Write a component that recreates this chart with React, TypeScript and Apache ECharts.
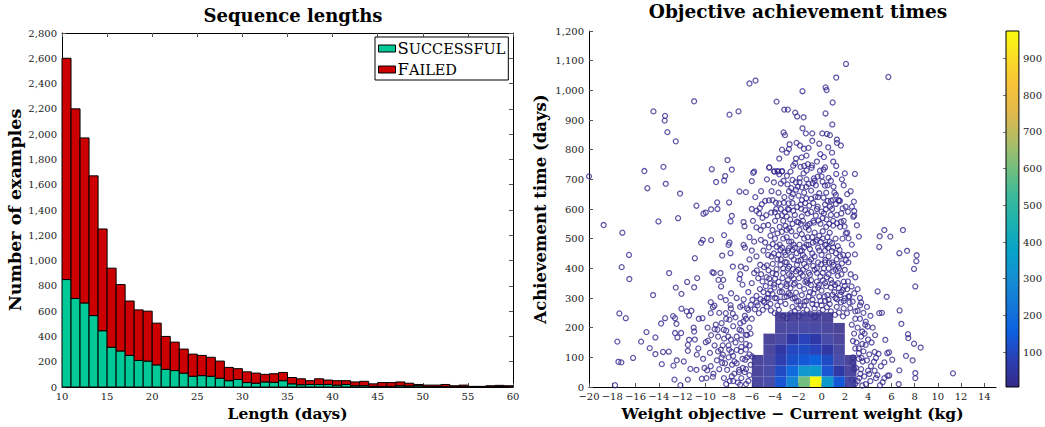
import React, { useEffect, useRef } from "react";
import * as echarts from "echarts";

// ---------- Left chart: sequence lengths ----------
const lengthBins = [
  10, 11, 12, 13, 14, 15, 16, 17, 18, 19, 20, 21, 22, 23, 24, 25, 26, 27, 28, 29,
  30, 31, 32, 33, 34, 35, 36, 37, 38, 39, 40, 41, 42, 43, 44, 45, 46, 47, 48, 49,
  50, 51, 52, 53, 54, 55, 56, 57, 58, 59,
];
const successful = [
  850, 700, 665, 565, 445, 315, 285, 250, 210, 205, 175, 140, 130, 110, 85, 90, 85, 70, 50, 60,
  35, 30, 40, 37, 50, 25, 18, 20, 20, 20, 15, 20, 10, 10, 5, 5, 5, 10, 8, 10,
  3, 3, 3, 2, 3, 1, 1, 2, 3, 2,
];
const failed = [
  1750, 1500, 1305, 1105, 805, 625, 525, 430, 400, 395, 330, 260, 225, 190, 175, 160, 150, 135, 105, 85,
  85, 80, 60, 68, 65, 50, 47, 30, 45, 35, 35, 30, 30, 35, 20, 30, 30, 30, 22, 10,
  12, 12, 17, 8, 12, 4, 4, 8, 10, 8,
];
const binWidth = 1;

// ---------- Right chart: objective achievement times ----------
const scatterPoints: number[][] = [
  // far outliers
  [2.1, 1089], [5.74, 1045], [1.26, 1043], [-6.2, 1023], [-5.68, 1033], [-1.64, 997], [0.34, 1010], [0.43, 1001],
  [-10.96, 963], [-3.87, 962], [0.95, 959], [-14.46, 929], [-13.46, 914], [-13.49, 898], [-7.14, 929], [-7.92, 918],
  [-3.21, 935], [-2.9, 935], [-2.27, 925], [-2.1, 912], [-1.55, 909], [0.34, 922], [-13.26, 859], [-12.54, 828],
  [-3.27, 858], [-3.15, 849], [-1.64, 872], [-1.35, 855], [-0.8, 855], [0.06, 855], [0.46, 853], [0.72, 849], [0.92, 885],
  [-2.75, 818], [-2.81, 802], [-2.15, 823], [-1.86, 814], [-1.52, 803], [-1.12, 806], [-0.11, 785], [0.57, 808],
  [1.32, 834], [1.32, 823], [1.66, 814], [-3.64, 770], [-1.72, 774], [-8.09, 765], [-13.6, 742], [-15.24, 728],
  [-14.98, 670], [-13.4, 685], [-20, 710], [-9.44, 734], [-9.07, 691], [-8.29, 711], [-8.38, 696], [-7.72, 733],
  [-4.5, 740], [-4.07, 727], [-3.79, 727], [-3.41, 727], [-5.8, 726], [-5.88, 722], [-6.0, 694], [1.26, 745],
  [1.26, 718], [2.87, 718], [1.75, 700], [-7.06, 659], [-6.51, 657], [-12.17, 652], [-18.74, 546], [-17.13, 520],
  [-14.03, 558], [-12.34, 569], [-10.76, 611], [-10.16, 584], [-9.96, 588], [-9.5, 599], [-8.98, 622], [-8.95, 600],
  [-7.95, 622], [-7.72, 577], [-7.83, 558], [-6.71, 556], [-6.63, 542], [-10.21, 496], [-10.36, 486], [-9.5, 495],
  [-8.38, 512], [-7.92, 487], [-8.0, 479], [-6.71, 479], [-8.55, 443], [-7.83, 451], [-16.56, 445], [-17.19, 404],
  [-16.53, 364], [-13.11, 384], [-10.9, 434], [-10.7, 367], [-10.96, 336], [-11.56, 354], [-9.38, 387], [-9.27, 384],
  [-8.69, 384], [-8.87, 361], [-8.46, 361], [-8.64, 339], [-7.78, 316], [-7.63, 406], [-6.94, 406], [-7.0, 380],
  [-7.06, 364], [-14.49, 310], [-12.54, 335], [-12.05, 314], [-17.39, 248], [-16.84, 232], [-17.56, 153], [-17.47, 85],
  [-17.22, 83], [-17.76, 6], [-13.46, 232], [-13.8, 214], [-12.77, 239], [-12.48, 213], [-12.6, 232], [-12.05, 264],
  [-15.52, 153], [-15.06, 185], [-14.29, 167], [-16.21, 98], [-14.78, 131], [-14.29, 111], [-13.74, 77], [-13.63, 118],
  [-13.14, 119], [-12.74, 72], [-12.6, 182], [-12.4, 167], [-12.45, 90], [-11.85, 86], [-12.65, 25], [-12.14, 6],
  [-11.5, 25], [-10.3, 28], [-11.28, 61], [-11.5, 142], [-11.39, 159], [-11.5, 122], [-12.08, 182], [-11.6, 255],
  [-11.39, 241], [-11.19, 257], [-10.96, 187], [-10.56, 230], [-10.24, 232], [-10.73, 109], [-10.76, 58], [-10.19, 95],
  [-10.07, 64], [-9.84, 56], [-9.53, 70], [-9.35, 34], [-9.96, 151], [-9.76, 156], [-9.1, 210], [-8.95, 193],
  [-8.41, 193], [-8.24, 249], [-7.63, 247], [-7.92, 227], [-8.38, 163], [-8.03, 170], [-8.67, 126], [-8.49, 109],
  [-7.95, 126], [-8.55, 81], [-8.12, 58], [-7.75, 118], [-7.72, 36], [-7.49, 86], [-7.09, 58], [-6.94, 120],
  [-7.06, 193], [-6.71, 221], [-6.51, 176], [-6.51, 126], [-6.57, 92], [-5.97, 103], [-6.77, 64], [-9.53, 249],
  [-9.35, 269], [-9.53, 286], [-9.21, 274], [-8.69, 303], [-8.24, 293], [-7.83, 276],
  // right side
  [5.4, 529], [7.0, 529], [5.0, 508], [5.91, 507], [4.96, 472], [6.69, 451], [7.35, 459], [8.18, 444], [8.15, 424],
  [7.95, 398], [8.06, 339], [4.82, 322], [5.6, 304], [6.71, 258], [6.86, 213], [7.43, 178], [7.46, 165], [7.95, 146],
  [8.52, 133], [7.26, 105], [7.83, 90], [8.06, 47], [8.06, 30], [11.3, 46], [6.69, 56], [6.63, 10], [5.48, 159],
  [4.96, 249], [5.19, 250], [3.21, 507], [2.87, 447], [2.27, 445], [2.78, 625], [3.04, 545], [2.81, 578], [2.81, 593],
  [3.41, 285], [3.1, 257], [3.76, 210], [3.96, 204], [3.5, 187], [3.79, 142], [4.56, 118], [4.68, 98], [4.9, 112],
  [5.65, 114], [5.8, 117], [6.08, 92], [5.4, 83], [5.1, 70], [4.56, 55], [4.25, 70], [4.68, 30], [5.02, 6], [5.25, 16],
  [5.4, 30], [5.68, 38], [5.82, 39], [4.1, 44], [3.67, 36], [3.24, 30], [3.33, 44], [2.9, 11], [2.67, 81], [3.21, 114],
  [3.44, 98], [3.53, 86], [2.96, 64],
  // central column
  [-4.5, 740], [-3.39, 727], [-3.76, 727], [-4.07, 726], [-3.64, 717], [-3.27, 695], [-3.5, 686], [-2.93, 683],
  [-2.98, 712], [-2.67, 726], [-2.44, 746], [-2.27, 754], [-1.81, 742], [-1.49, 745], [-1.18, 751], [-0.83, 747],
  [-0.86, 739], [-1.29, 730], [-1.55, 720], [-1.87, 704], [-2.21, 690], [-2.5, 698], [-2.61, 670], [-2.04, 675],
  [-1.69, 673], [-1.32, 675], [-1.12, 685], [-0.77, 687], [-0.49, 680], [-0.14, 729], [0.17, 733], [-0.34, 709],
  [-0.66, 703], [0.09, 692], [0.29, 679], [0.52, 680], [0.8, 695], [1.03, 675], [1.23, 647], [1.46, 628], [1.58, 627],
  [1.23, 617], [0.8, 628], [0.52, 627], [0.17, 638], [-0.2, 653], [-0.54, 641], [-0.89, 635], [-1.32, 636], [-1.69, 630],
  [-1.98, 645], [-2.47, 650], [-2.84, 619], [-3.24, 621], [-3.64, 619], [-3.93, 621], [-4.22, 630], [-4.53, 629],
  [-4.85, 627], [-5.14, 616], [-5.31, 603], [-5.6, 594], [-5.37, 585], [-5.08, 570], [-4.76, 579], [-4.33, 588],
  [-4.02, 589], [-3.76, 576], [-3.41, 579], [-3.16, 589], [-2.81, 598], [-2.44, 594], [-2.1, 607], [-1.75, 601],
  [-1.41, 596], [-1.06, 611], [-0.72, 620], [-0.34, 608], [0, 591], [0.37, 599], [0.72, 608], [0.98, 630], [1.49, 630],
  [1.81, 602], [2.07, 608], [2.27, 591], [2.61, 608], [2.73, 574], [2.09, 518], [2.32, 501], [1.98, 541], [1.66, 557],
  [1.32, 552], [1.0, 544], [0.66, 550], [0.43, 565], [0.09, 569], [-0.26, 561], [-0.66, 554], [-1.03, 550], [-1.35, 538],
  [-1.78, 550], [-2.12, 557], [-2.5, 550], [-2.78, 535], [-3.1, 543], [-3.41, 523], [-3.79, 518], [-4.22, 529],
  [-4.59, 546], [-4.99, 543], [-5.25, 529], [-5.6, 538], [-5.22, 496], [-4.85, 487], [-4.53, 471], [-4.19, 482],
  [-3.87, 473], [-3.53, 462], [-3.19, 454], [-2.81, 468], [-2.5, 462], [-2.15, 451], [-1.84, 458], [-1.49, 471],
  [-1.12, 479], [-0.75, 487], [-0.4, 496], [-0.06, 489], [0.29, 479], [0.55, 469], [0.89, 458], [1.23, 451], [1.55, 462],
  [1.86, 445], [2.09, 428], [1.75, 417], [1.41, 406], [1.03, 412], [0.66, 419], [0.32, 428], [-0.03, 414], [-0.4, 400],
  [-0.72, 408], [-1.06, 423], [-1.44, 437], [-1.78, 428], [-2.12, 412], [-2.47, 397], [-2.78, 406], [-3.13, 421],
  [-3.53, 412], [-3.87, 397], [-4.22, 384], [-4.56, 393], [-4.94, 404], [-5.28, 412], [-5.57, 393], [-5.8, 384],
  [-5.45, 367], [-5.08, 356], [-4.73, 370], [-4.39, 350], [-4.05, 335], [-3.7, 354], [-3.36, 367], [-3.01, 348],
  [-2.67, 333], [-2.3, 350], [-1.95, 367], [-1.61, 375], [-1.26, 359], [-0.92, 344], [-0.57, 330], [-0.23, 344],
  [0.11, 359], [0.46, 370], [0.8, 361], [1.15, 344], [1.49, 333], [1.84, 327], [2.27, 356], [2.58, 339], [2.81, 316],
  [2.67, 288], [2.38, 305], [2.01, 299], [1.66, 285], [1.32, 296], [0.95, 311], [0.6, 294], [0.26, 305], [-0.09, 290],
  [-0.43, 277], [-0.77, 294], [-1.12, 305], [-1.46, 288], [-1.81, 274], [-2.15, 288], [-2.5, 299], [-2.84, 316],
  [-3.19, 303], [-3.53, 288], [-3.87, 299], [-4.22, 314], [-4.56, 299], [-4.91, 285], [-5.25, 296], [-5.6, 307],
  [-5.94, 294], [-6.08, 277], [-5.74, 262], [-5.39, 249], [-5.05, 260], [-4.71, 271], [-4.36, 258], [-4.02, 249],
  [-3.67, 260], [-3.33, 240], [-2.98, 232], [-2.64, 249], [-2.3, 255], [-1.95, 238], [-1.61, 249], [-1.26, 260],
  [-0.92, 247], [-0.57, 236], [-0.23, 249], [0.11, 260], [0.46, 269], [0.8, 255], [1.15, 243], [1.49, 251], [1.84, 238],
  [2.18, 249], [2.47, 266],
  // extra middle points
  [-2.6, 640], [-2.2, 665], [-1.5, 655], [-0.9, 662], [-0.3, 640], [0.4, 655], [-2.9, 600], [-2.3, 580], [-1.7, 575],
  [-1.2, 585], [-0.5, 578], [0.2, 585], [0.8, 580], [-3.3, 560], [-2.7, 565], [-1.9, 530], [-1.1, 530], [-0.6, 520],
  [0.1, 525], [0.7, 520], [1.2, 500], [-3.0, 505], [-2.2, 510], [-1.5, 500], [-0.8, 505], [-0.2, 510], [0.5, 505],
  [-3.6, 480], [-2.6, 490], [-1.9, 480], [-1.0, 465], [-0.3, 470], [0.3, 460], [0.9, 485], [-3.1, 445], [-2.4, 430],
  [-1.6, 445], [-0.6, 440], [0.0, 445], [0.6, 440], [1.3, 430], [-3.8, 430], [-2.9, 400], [-2.0, 395], [-1.3, 405],
  [-0.4, 385], [0.2, 400], [1.0, 390], [-3.3, 385], [-2.6, 375], [-1.8, 385], [-1.0, 378], [-0.1, 372], [0.6, 380],
  [1.4, 375], [-3.0, 340], [-2.2, 318], [-1.5, 330], [-0.7, 315], [0.0, 325], [0.8, 335], [1.6, 310], [-4.0, 365],
  [-3.6, 320], [-2.4, 365], [-1.2, 350], [-0.4, 355], [0.4, 340], [1.1, 320], [-4.4, 325], [-3.0, 305], [-2.0, 290],
  [-1.0, 320], [0.3, 290], [1.9, 290], [-5.0, 320], [-4.7, 300], [-5.5, 275], [-6.4, 265], [-6.7, 295], [-6.3, 320],
  [-6.0, 350], [-5.2, 380], [-4.7, 410], [-4.3, 440], [-5.6, 440], [-5.0, 460], [-6.2, 430], [-6.5, 400], [-6.8, 345],
  [-7.3, 300], [-7.0, 270], [2.3, 420], [2.0, 395], [2.5, 380], [1.9, 355], [2.2, 330], [3.1, 330], [3.3, 300],
  [2.9, 370], [2.6, 480], [2.2, 520], [1.9, 560], [1.7, 585],
  [-3.7, 655], [-3.2, 640], [-2.8, 660], [-1.9, 690], [-1.3, 700], [-0.6, 695], [0.0, 710], [0.6, 705], [1.1, 655],
  [-4.3, 660], [-3.9, 600], [-3.5, 600], [-3.0, 575], [-2.5, 620], [-1.8, 615], [-1.4, 620], [-0.9, 590], [-0.4, 600],
  [0.3, 615], [0.9, 600], [1.3, 580], [1.6, 540], [-4.0, 560], [-3.6, 540], [-3.0, 530], [-2.6, 525], [-2.0, 555],
  [-1.6, 560], [-1.2, 545], [-0.7, 560], [-0.1, 550], [0.4, 540], [1.0, 560], [-4.4, 510], [-4.0, 500], [-3.3, 500],
  [-2.8, 490], [-2.4, 480], [-1.7, 515], [-1.2, 505], [-0.5, 490], [0.1, 500], [0.7, 490], [1.4, 475], [1.8, 500],
  [-4.1, 450], [-3.7, 445], [-3.4, 470], [-2.9, 460], [-2.3, 470], [-1.7, 460], [-1.3, 480], [-0.8, 450], [-0.2, 460],
  [0.4, 480], [1.0, 470], [1.6, 440], [-4.6, 445], [-4.2, 415], [-3.5, 430], [-3.0, 420], [-2.6, 440], [-2.0, 425],
  [-1.5, 415], [-0.9, 430], [-0.3, 420], [0.3, 420], [0.9, 420], [1.5, 400], [-4.5, 365], [-3.9, 380], [-3.3, 400],
  [-2.8, 380], [-2.2, 390], [-1.6, 395], [-1.1, 385], [-0.6, 395], [0.1, 385], [0.6, 400], [1.2, 395], [1.7, 380],
  [-4.8, 340], [-4.1, 345], [-3.5, 340], [-2.9, 360], [-2.4, 345], [-1.9, 340], [-1.4, 355], [-0.9, 360], [-0.3, 335],
  [0.3, 350], [0.9, 350], [1.4, 350], [2.0, 340], [-5.3, 330], [-4.6, 315], [-4.0, 300], [-3.4, 320], [-2.7, 310],
  [-2.3, 300], [-1.7, 310], [-1.3, 290], [-0.8, 280], [-0.2, 305], [0.5, 310], [1.2, 300], [1.7, 320], [2.3, 305],
  [-5.6, 285], [-5.0, 290], [-4.4, 280], [-3.8, 275], [-3.1, 280], [-2.5, 270], [-2.0, 265], [-1.5, 275], [-0.6, 265],
  [0.0, 275], [0.7, 280], [1.3, 270], [1.9, 265], [2.4, 285], [-2.2, 770], [-1.3, 780], [-0.4, 760], [0.2, 775],
  [0.9, 790], [-3.0, 790], [-4.1, 690], [-4.7, 700], [-5.2, 660], [-5.7, 640], [-6.0, 600], [-5.9, 560], [-6.2, 505],
  [-6.6, 470], [-6.0, 460], [-5.8, 490], [1.9, 680], [2.2, 650], [2.5, 660], [2.0, 720], [-0.2, 820], [-0.8, 830],
  [1.0, 760], [0.3, 740], [-3.4, 800],
  // lower left
  [-7.9, 20], [-7.5, 45], [-7.2, 15], [-6.9, 30], [-6.6, 50], [-6.3, 20], [-6.1, 75], [-6.4, 100], [-6.8, 95],
  [-7.3, 80], [-7.6, 105], [-8.0, 140], [-7.4, 150], [-6.9, 160], [-6.5, 145], [-6.2, 200], [-6.6, 240], [-7.0, 215],
  [-7.4, 235], [-8.2, 190], [-8.6, 215], [-8.9, 170], [-9.2, 140], [-9.6, 115], [-9.0, 90], [-8.8, 60], [-9.3, 45],
  [-8.4, 30], [-8.2, 10], [-7.0, 8], [-6.5, 10], [-6.2, 140], [-6.1, 180], [-6.0, 230], [-6.3, 260], [-7.8, 265],
  [-8.5, 140], [-9.8, 200], [-9.9, 30], [-10.6, 130], [-10.9, 160], [-11.0, 200], [-9.5, 175],
  [-6.5, 230], [-6.9, 190], [-7.3, 170], [-7.8, 160], [-7.6, 205], [-8.2, 230], [-7.7, 75], [-8.0, 100], [-7.3, 125],
  [-6.9, 135], [-6.2, 110], [-6.5, 60], [-6.2, 40], [-7.1, 50], [-7.6, 20], [-8.6, 100], [-8.3, 80], [-8.9, 120],
  [-9.2, 195], [-8.8, 250], [-6.8, 275], [-6.4, 175],
  // lower right
  [3.1, 20], [3.4, 60], [3.2, 95], [3.6, 120], [3.9, 90], [4.2, 20], [3.8, 10], [3.0, 150], [3.4, 170], [3.1, 200],
  [2.9, 230], [3.6, 250], [4.3, 150], [4.5, 85], [4.0, 55], [3.5, 5], [4.8, 40], [2.8, 180], [3.9, 270], [4.4, 200],
  [2.6, 25], [2.8, 60], [2.7, 100], [2.9, 130], [3.2, 130], [3.3, 230], [2.6, 210], [2.7, 155], [3.7, 180], [4.0, 160],
  [3.5, 145], [3.8, 220], [4.1, 110], [3.3, 275], [2.9, 255], [4.6, 175], [4.2, 240],
];

// density of points: [left edge (kg), bottom edge (days), count]
const densityCells: number[][] = [
  [-6, 0, 25], [-5, 0, 45], [-4, 0, 130], [-3, 0, 270], [-2, 0, 600], [-1, 0, 970], [0, 0, 340], [1, 0, 140], [2, 0, 30],
  [-6, 36, 20], [-5, 36, 40], [-4, 36, 110], [-3, 36, 190], [-2, 36, 330], [-1, 36, 350], [0, 36, 130], [1, 36, 60], [2, 36, 20],
  [-6, 72, 15], [-5, 72, 35], [-4, 72, 75], [-3, 72, 120], [-2, 72, 140], [-1, 72, 170], [0, 72, 110], [1, 72, 45], [2, 72, 15],
  [-5, 108, 25], [-4, 108, 55], [-3, 108, 100], [-2, 108, 110], [-1, 108, 90], [0, 108, 55], [1, 108, 30],
  [-5, 144, 15], [-4, 144, 35], [-3, 144, 55], [-2, 144, 90], [-1, 144, 60], [0, 144, 40], [1, 144, 20],
  [-4, 180, 25], [-3, 180, 35], [-2, 180, 40], [-1, 180, 35], [0, 180, 25], [1, 180, 12],
  [-4, 216, 12], [-3, 216, 20], [-2, 216, 25], [-1, 216, 20], [0, 216, 15],
];
const cellWidthKg = 1;
const cellHeightDays = 36;
const countMin = 5;
const countMax = 975;
const sparseCount = 50;
const colorbarTicks = [100, 200, 300, 400, 500, 600, 700, 800, 900];
const weightTicks = [-20, -18, -16, -14, -12, -10, -8, -6, -4, -2, 0, 2, 4, 6, 8, 10, 12, 14];

const parula = [
  "#352a87", "#2c3fb3", "#0d5fe0", "#1478d8", "#1590d2", "#07a3c8",
  "#1db2b0", "#3cb99a", "#74bf7e", "#b0bd66", "#e0b84c", "#f8c23a", "#fadb26", "#f9fb0e",
];

const FONT = "DejaVu Serif";
const minus = (v: number) => (v < 0 ? "\u2212" + Math.abs(v) : String(v));
const thousands = (v: number) => v.toLocaleString("en-US");

export default function App() {
  const ref = useRef<HTMLDivElement>(null);
  useEffect(() => {
    if (!ref.current) return;
    const chart = echarts.init(ref.current, null, { renderer: "svg" });
    const tickLabel = { fontFamily: FONT, fontSize: 10, color: "#222" };
    const xNameStyle = { fontFamily: FONT, fontSize: 15.5, fontWeight: "bold" as const, color: "#000" };
    const line = { onZero: false, lineStyle: { color: "#000", width: 1 } };
    const tickIn = { inside: true, length: 4, lineStyle: { color: "#555" } };

    const successData = lengthBins.map((l, i) => [l, 0, successful[i]]);
    const failedData = lengthBins.map((l, i) => [l, successful[i], successful[i] + failed[i]]);

    const barRender = (params: any, api: any) => {
      const x = api.value(0);
      const lo = api.value(1);
      const hi = api.value(2);
      const p0 = api.coord([x, hi]);
      const p1 = api.coord([x + binWidth, lo]);
      return {
        type: "rect",
        shape: { x: p0[0], y: p0[1], width: p1[0] - p0[0], height: p1[1] - p0[1] },
        style: { fill: api.visual("color"), stroke: "#000", lineWidth: 1 },
      };
    };

    const cellRender = (params: any, api: any) => {
      const x = api.value(0);
      const y = api.value(1);
      const c = api.value(2);
      const p0 = api.coord([x, y + cellHeightDays]);
      const p1 = api.coord([x + cellWidthKg, y]);
      return {
        type: "rect",
        shape: { x: p0[0], y: p0[1], width: p1[0] - p0[0], height: p1[1] - p0[1] },
        style: { fill: api.visual("color"), opacity: c < sparseCount ? 0.88 : 1 },
      };
    };

    const colorbarRender = (params: any) => {
      const cs = params.coordSys;
      return {
        type: "rect",
        shape: { x: cs.x, y: cs.y, width: cs.width, height: cs.height },
        style: {
          fill: new echarts.graphic.LinearGradient(
            0, 1, 0, 0,
            parula.map((c, i) => ({ offset: i / (parula.length - 1), color: c }))
          ),
          stroke: "#000",
          lineWidth: 1,
        },
      };
    };

    chart.setOption({
      animation: false,
      title: [
        {
          text: "Sequence lengths",
          left: 288,
          top: 1,
          textAlign: "center",
          textStyle: { fontFamily: FONT, fontSize: 18, fontWeight: "bold", color: "#000" },
        },
        {
          text: "Objective achievement times",
          left: 793,
          top: -3,
          textAlign: "center",
          textStyle: { fontFamily: FONT, fontSize: 18.5, fontWeight: "bold", color: "#000" },
        },
      ],
      legend: {
        left: 375,
        top: 37,
        orient: "vertical",
        backgroundColor: "#fff",
        borderColor: "#000",
        borderWidth: 1,
        padding: [3, 3, 2, 3],
        itemGap: 4,
        itemWidth: 17,
        itemHeight: 7,
        icon: "rect",
        selectedMode: false,
        data: [
          { name: "Successful", itemStyle: { borderColor: "#000", borderWidth: 1 } },
          { name: "Failed", itemStyle: { borderColor: "#000", borderWidth: 1 } },
        ],
        formatter: (name: string) =>
          name === "Successful" ? "{b|S}{s|UCCESSFUL}" : "{b|F}{s|AILED}",
        textStyle: {
          fontFamily: FONT,
          color: "#000",
          padding: [0, 0, 0, -3],
          rich: {
            b: { fontFamily: FONT, fontSize: 16.5, color: "#000" },
            s: { fontFamily: FONT, fontSize: 14.5, color: "#000" },
          },
        },
      },
      visualMap: {
        show: false,
        type: "continuous",
        seriesIndex: 3,
        dimension: 2,
        min: countMin,
        max: countMax,
        inRange: { color: parula },
      },
      grid: [
        { left: 62, right: 532, top: 33, bottom: 40 },
        { left: 589, right: 49, top: 31, bottom: 40 },
        { left: 1006, right: 25, top: 31, bottom: 40 },
      ],
      xAxis: [
        {
          gridIndex: 0, type: "value", min: 10, max: 60, interval: 5, position: "bottom",
          axisLine: line, axisTick: tickIn, splitLine: { show: false },
          axisLabel: { ...tickLabel, margin: 4 },
          name: "Length (days)", nameLocation: "middle", nameGap: 16, nameTextStyle: xNameStyle,
        },
        {
          gridIndex: 0, type: "value", min: 10, max: 60, interval: 5, position: "top",
          axisLine: line, axisTick: tickIn, splitLine: { show: false }, axisLabel: { show: false },
        },
        {
          gridIndex: 1, type: "value", min: -20, max: 15, position: "bottom",
          axisLine: line,
          axisTick: { ...tickIn, customValues: weightTicks },
          splitLine: { show: false },
          axisLabel: { ...tickLabel, margin: 4, customValues: weightTicks, formatter: (v: number) => minus(v) },
          name: "Weight objective \u2212 Current weight (kg)", nameLocation: "middle", nameGap: 16,
          nameTextStyle: xNameStyle,
        },
        {
          gridIndex: 2, type: "value", min: 0, max: 1, show: false,
        },
      ],
      yAxis: [
        {
          gridIndex: 0, type: "value", min: 0, max: 2800, interval: 200, position: "left",
          axisLine: line, axisTick: tickIn, splitLine: { show: false },
          axisLabel: { ...tickLabel, margin: 5, formatter: (v: number) => thousands(v) },
          name: "Number of examples", nameLocation: "middle", nameGap: 38,
          nameTextStyle: { ...xNameStyle, fontSize: 17.5 },
        },
        {
          gridIndex: 0, type: "value", min: 0, max: 2800, interval: 200, position: "right",
          axisLine: line, axisTick: tickIn, splitLine: { show: false }, axisLabel: { show: false },
        },
        {
          gridIndex: 1, type: "value", min: 0, max: 1200, interval: 100, position: "left",
          axisLine: line, axisTick: tickIn, splitLine: { show: false },
          axisLabel: { ...tickLabel, margin: 5, formatter: (v: number) => thousands(v) },
          name: "Achievement time (days)", nameLocation: "middle", nameGap: 40,
          nameTextStyle: { ...xNameStyle, fontSize: 16.5 },
        },
        {
          gridIndex: 2, type: "value", min: countMin, max: countMax, position: "right",
          axisLine: { show: false },
          axisTick: { inside: true, length: 3, customValues: colorbarTicks, lineStyle: { color: "#777" } },
          splitLine: { show: false },
          axisLabel: { ...tickLabel, margin: 4, customValues: colorbarTicks },
        },
        {
          gridIndex: 2, type: "value", min: countMin, max: countMax, position: "left",
          axisLine: { show: false },
          axisTick: { inside: true, length: 3, customValues: colorbarTicks, lineStyle: { color: "#777" } },
          splitLine: { show: false },
          axisLabel: { show: false },
        },
      ],
      series: [
        {
          name: "Successful", type: "custom", xAxisIndex: 0, yAxisIndex: 0,
          itemStyle: { color: "#00c896" }, renderItem: barRender,
          encode: { x: 0, y: 2 }, data: successData, z: 2,
        },
        {
          name: "Failed", type: "custom", xAxisIndex: 0, yAxisIndex: 0,
          itemStyle: { color: "#cc0000" }, renderItem: barRender,
          encode: { x: 0, y: 2 }, data: failedData, z: 2,
        },
        {
          name: "Points", type: "scatter", xAxisIndex: 2, yAxisIndex: 2,
          symbol: "circle", symbolSize: 5,
          itemStyle: { color: "rgba(0,0,0,0)", borderColor: "#332b8e", borderWidth: 1.25 },
          data: scatterPoints, z: 2,
        },
        {
          name: "Density", type: "custom", xAxisIndex: 2, yAxisIndex: 2,
          renderItem: cellRender, encode: { x: 0, y: 1 }, data: densityCells, z: 3,
        },
        {
          name: "Colorbar", type: "custom", xAxisIndex: 3, yAxisIndex: 3,
          renderItem: colorbarRender, data: [[0.5, 500]], z: 1,
        },
      ],
    });
    return () => chart.dispose();
  }, []);
  return (
    <div
      ref={ref}
      style={{ position: "absolute", left: 0, top: 0, width: 1045, height: 427, background: "#fff" }}
    />
  );
}
